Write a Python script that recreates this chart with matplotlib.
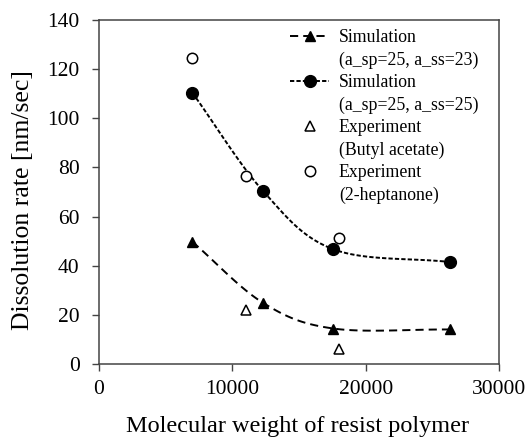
import matplotlib.pyplot as plt
from matplotlib.lines import Line2D
import numpy as np

plt.rcParams['font.family'] = ['Liberation Serif', 'DejaVu Serif']

# data
mw_sim = [7000, 12300, 17550, 26300]
sim_23 = [49.8, 25.0, 14.6, 14.2]
sim_25 = [110.3, 70.4, 46.8, 41.6]

mw_exp = [7000, 11000, 18000]
exp_butyl = [None, 22.3, 6.1]
exp_hept = [124.5, 76.7, 51.4]


def smooth(x, y, n=40):
    # Catmull-Rom curve through the points (like a spreadsheet's smoothed line)
    x = np.asarray(x, float)
    y = np.asarray(y, float)
    px = np.concatenate([[2 * x[0] - x[1]], x, [2 * x[-1] - x[-2]]])
    py = np.concatenate([[2 * y[0] - y[1]], y, [2 * y[-1] - y[-2]]])
    xs, ys = [], []
    t = np.linspace(0, 1, n)
    for i in range(1, len(px) - 2):
        for p, out in ((px, xs), (py, ys)):
            p0, p1, p2, p3 = p[i - 1], p[i], p[i + 1], p[i + 2]
            out.extend(0.5 * ((2 * p1) + (-p0 + p2) * t
                              + (2 * p0 - 5 * p1 + 4 * p2 - p3) * t ** 2
                              + (-p0 + 3 * p1 - 3 * p2 + p3) * t ** 3))
    return xs, ys


fig = plt.figure(figsize=(5.31, 4.37), dpi=100)
ax = fig.add_axes([0.1864, 0.166, 0.754, 0.789])

lw = 1.4
dash_tri = (4.2, 2.6)
dash_circ = (2.2, 1.1)

sx, sy = smooth(mw_sim, sim_23)
ax.plot(sx, sy, color='black', lw=lw, dashes=dash_tri)
ax.plot(mw_sim, sim_23, linestyle='none', marker='^', color='black', ms=7.5)

sx, sy = smooth(mw_sim, sim_25)
ax.plot(sx, sy, color='black', lw=lw, dashes=dash_circ)
ax.plot(mw_sim, sim_25, linestyle='none', marker='o', color='black', ms=8.5)

bx = [m for m, v in zip(mw_exp, exp_butyl) if v is not None]
by = [v for v in exp_butyl if v is not None]
ax.plot(bx, by, linestyle='none', marker='^', mfc='white', mec='black', mew=1.1, ms=6.5)
ax.plot(mw_exp, exp_hept, linestyle='none', marker='o', mfc='white', mec='black', mew=1.1, ms=7.5)

ax.set_xlim(0, 30000)
ax.set_ylim(0, 140)
ax.set_xticks([0, 10000, 20000, 30000])
ax.set_yticks(range(0, 141, 20))
ax.tick_params(direction='out', length=5, width=1, color='#444444', labelsize=15.5)
ax.tick_params(axis='y', pad=9)
ax.tick_params(axis='x', pad=6)
for s in ax.spines.values():
    s.set_color('#444444')
    s.set_linewidth(1.1)

fig.text(297 / 531, 1 - 432 / 437, 'Molecular weight of resist polymer',
         fontsize=17.5, ha='center', va='baseline')
fig.text(23 / 531, 1 - 200 / 437, 'Dissolution rate [nm/sec]',
         fontsize=18.5, ha='center', va='center', rotation=90)

blank = Line2D([], [], linestyle='none')
handles = [
    Line2D([], [], color='black', lw=lw, dashes=dash_tri, marker='^', ms=7.5),
    blank,
    Line2D([], [], color='black', lw=lw, dashes=dash_circ, marker='o', ms=8.5),
    blank,
    Line2D([], [], linestyle='none', marker='^', mfc='white', mec='black', mew=1.1, ms=6.5),
    blank,
    Line2D([], [], linestyle='none', marker='o', mfc='white', mec='black', mew=1.1, ms=7.5),
    blank,
]
labels = ['Simulation', '(a_sp=25, a_ss=23)',
          'Simulation', '(a_sp=25, a_ss=25)',
          'Experiment', '(Butyl acetate)',
          'Experiment', '(2-heptanone)']
fig.legend(handles, labels, loc='upper left', bbox_to_anchor=(290 / 531, 1 - 29 / 437),
           frameon=False, fontsize=12.8, handlelength=2.2, handletextpad=0.55,
           labelspacing=0.3, borderpad=0, borderaxespad=0)

fig.savefig('out.png', dpi=100)
